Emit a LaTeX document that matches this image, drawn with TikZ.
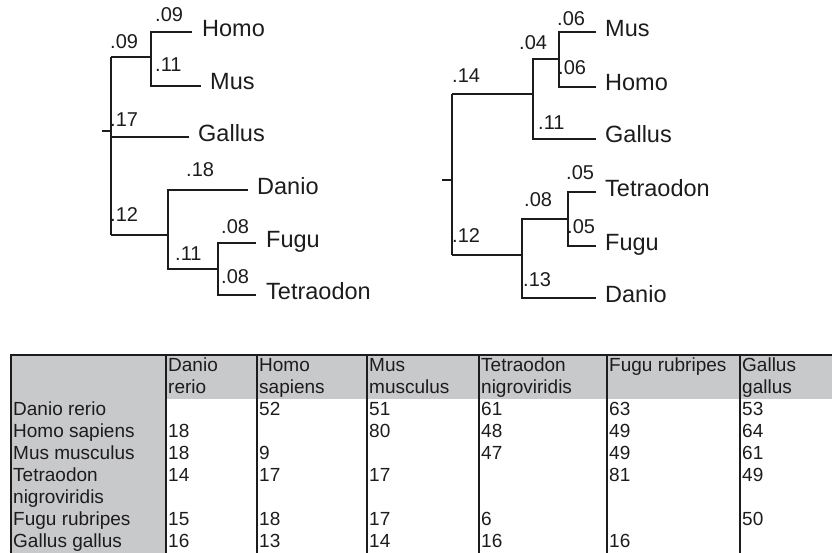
\documentclass[tikz,border=0pt]{standalone}
\usepackage{fontspec}
\setmainfont{Liberation Sans}
\definecolor{ink}{RGB}{30,27,28}
\definecolor{cellgray}{RGB}{200,201,203}
\begin{document}
\begin{tikzpicture}[x=1bp,y=-1bp,
  branch/.style={draw=ink,line width=2.4bp},
  rule/.style={draw=ink,line width=2.4bp},
  leaf/.style={anchor=west,inner sep=0pt,text height=0.72em,text depth=0pt,text=ink,font=\fontsize{23.5bp}{27bp}\selectfont},
  blen/.style={anchor=west,inner sep=0pt,text height=0.72em,text depth=0pt,text=ink,font=\fontsize{20bp}{24bp}\selectfont},
  cell/.style={anchor=west,inner sep=0pt,text height=0.72em,text depth=0pt,text=ink,font=\fontsize{19bp}{22bp}\selectfont}]
\useasboundingbox (0,0) rectangle (832,553);

% ---------- left tree ----------
\coordinate (Ltick) at (102,131);
\coordinate (Lroot) at (111,131);
\coordinate (Ltop) at (111,57);
\coordinate (Lbot) at (111,235);
\coordinate (LhmA) at (151,32);
\coordinate (LhmB) at (151,86);
\coordinate (LhmJ) at (151,57);
\coordinate (LhomoE) at (192,32);
\coordinate (LmusE) at (201,86);
\coordinate (LgalS) at (111,137);
\coordinate (LgalE) at (189,137);
\coordinate (LfJ) at (168,235);
\coordinate (LfA) at (168,190);
\coordinate (LfB) at (168,269);
\coordinate (LdanE) at (248,190);
\coordinate (LftJ) at (218,269);
\coordinate (LftA) at (218,243);
\coordinate (LftB) at (218,295);
\coordinate (LfugE) at (256,243);
\coordinate (LtetE) at (256,295);

\draw[branch] (Ltick) -- (Lroot);
\draw[branch] (Ltop) -- (Lbot);
\draw[branch] (Ltop) -- (LhmJ);
\draw[branch] (LhomoE) -- (LhmA) -- (LhmB) -- (LmusE);
\draw[branch] (LgalS) -- (LgalE);
\draw[branch] (Lbot) -- (LfJ);
\draw[branch] (LdanE) -- (LfA) -- (LfB) -- (LftJ);
\draw[branch] (LfugE) -- (LftA) -- (LftB) -- (LtetE);

\node[leaf] (LHomo) at (202,33) {Homo};
\node[leaf] (LMus) at (210,86) {Mus};
\node[leaf] (LGallus) at (198,138) {Gallus};
\node[leaf] (LDanio) at (257,191) {Danio};
\node[leaf] (LFugu) at (266,244) {Fugu};
\node[leaf] (LTetra) at (266,296) {Tetraodon};

\node[blen] (l1) at (155,18) {.09};
\node[blen] (l2) at (110,45) {.09};
\node[blen] (l3) at (155,68) {.11};
\node[blen] (l4) at (110,123) {.17};
\node[blen] (l5) at (186,173) {.18};
\node[blen] (l6) at (110,218) {.12};
\node[blen] (l7) at (175,257) {.11};
\node[blen] (l8) at (221,230) {.08};
\node[blen] (l9) at (221,280) {.08};

% ---------- right tree ----------
\coordinate (Rtick) at (442,180);
\coordinate (Rroot) at (452,180);
\coordinate (Rtop) at (452,94);
\coordinate (Rbot) at (452,255);
\coordinate (RaJ) at (533,94);
\coordinate (RaA) at (533,59);
\coordinate (RaB) at (533,139);
\coordinate (RmhJ) at (559,59);
\coordinate (RmhA) at (559,32);
\coordinate (RmhB) at (559,87);
\coordinate (RmusE) at (596,32);
\coordinate (RhomoE) at (596,87);
\coordinate (RgalE) at (596,139);
\coordinate (RbJ) at (522,255);
\coordinate (RbA) at (522,219);
\coordinate (RbB) at (522,298);
\coordinate (RtfJ) at (568,219);
\coordinate (RtfA) at (568,192);
\coordinate (RtfB) at (568,246);
\coordinate (RtetE) at (596,192);
\coordinate (RfugE) at (596,246);
\coordinate (RdanE) at (596,298);

\draw[branch] (Rtick) -- (Rroot);
\draw[branch] (Rtop) -- (Rbot);
\draw[branch] (Rtop) -- (RaJ);
\draw[branch] (RmhJ) -- (RaA) -- (RaB) -- (RgalE);
\draw[branch] (RmusE) -- (RmhA) -- (RmhB) -- (RhomoE);
\draw[branch] (Rbot) -- (RbJ);
\draw[branch] (RtfJ) -- (RbA) -- (RbB) -- (RdanE);
\draw[branch] (RtetE) -- (RtfA) -- (RtfB) -- (RfugE);

\node[leaf] (RMus) at (605,33) {Mus};
\node[leaf] (RHomo) at (605,87) {Homo};
\node[leaf] (RGallus) at (605,139) {Gallus};
\node[leaf] (RTetra) at (605,193) {Tetraodon};
\node[leaf] (RFugu) at (605,247) {Fugu};
\node[leaf] (RDanio) at (605,299) {Danio};

\node[blen] (r1) at (557,22) {.06};
\node[blen] (r2) at (519,46) {.04};
\node[blen] (r3) at (558,71) {.06};
\node[blen] (r4) at (452,79) {.14};
\node[blen] (r5) at (538,126) {.11};
\node[blen] (r6) at (566,176) {.05};
\node[blen] (r7) at (524,203) {.08};
\node[blen] (r8) at (567,230) {.05};
\node[blen] (r9) at (452,239) {.12};
\node[blen] (r10) at (523,283) {.13};

% ---------- table ----------
\fill[cellgray] (11,355) rectangle (166,553);
\fill[cellgray] (166,355) rectangle (832,399);
\draw[rule] (10,355) -- (832,355);
\foreach \x in {11,166,257,367,479,607,740}
  \draw[rule] (\x,355) -- (\x,553);

\node[cell] (h1a) at (168,368) {Danio};
\node[cell] (h1b) at (168,390) {rerio};
\node[cell] (h2a) at (259,368) {Homo};
\node[cell] (h2b) at (259,390) {sapiens};
\node[cell] (h3a) at (369,368) {Mus};
\node[cell] (h3b) at (369,390) {musculus};
\node[cell] (h4a) at (481,368) {Tetraodon};
\node[cell] (h4b) at (481,390) {nigroviridis};
\node[cell] (h5a) at (609,368) {Fugu rubripes};
\node[cell] (h6a) at (742,368) {Gallus};
\node[cell] (h6b) at (742,390) {gallus};

\node[cell] (row1) at (13,412) {Danio rerio};
\node[cell] (row2) at (13,434) {Homo sapiens};
\node[cell] (row3) at (13,456) {Mus musculus};
\node[cell] (row4) at (13,478) {Tetraodon};
\node[cell] (row4b) at (13,500) {nigroviridis};
\node[cell] (row5) at (13,522) {Fugu rubripes};
\node[cell] (row6) at (13,544) {Gallus gallus};

\foreach \y/\r/\vals in {412/1/{,52,51,61,63,53},434/2/{18,,80,48,49,64},456/3/{18,9,,47,49,61},478/4/{14,17,17,,81,49},522/5/{15,18,17,6,,50},544/6/{16,13,14,16,16,}}{
  \foreach \v [count=\c] in \vals {
    \pgfmathsetmacro{\xx}{{168,259,369,481,609,742}[\c-1]}
    \node[cell] (v\r-\c) at (\xx,\y) {\v};
  }
}
\end{tikzpicture}
\end{document}
